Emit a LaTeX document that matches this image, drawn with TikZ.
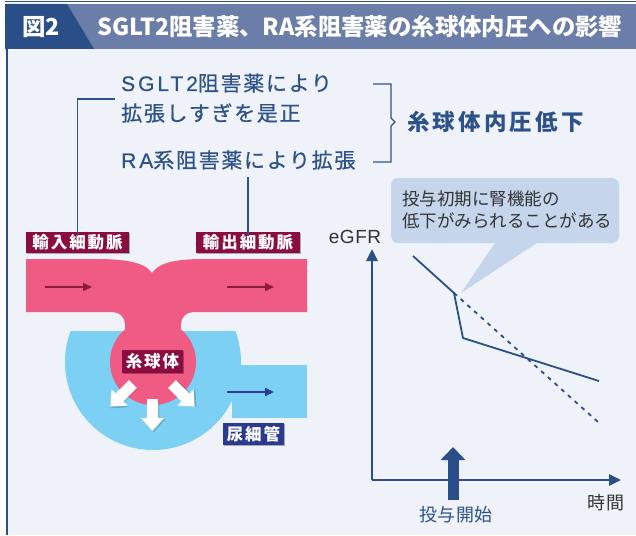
\documentclass[tikz,border=0pt]{standalone}
\usepackage{fontspec}
\setmainfont{Noto Sans CJK JP}
\newfontfamily\latinsans{Liberation Sans}
\usetikzlibrary{arrows.meta,shadows}

\definecolor{hdrdark}{HTML}{2A4F88}
\definecolor{hdrlight}{HTML}{6B7EA9}
\definecolor{panel}{HTML}{EFF3F9}
\definecolor{txtblue}{HTML}{2D528A}
\definecolor{pinkc}{HTML}{EF5B82}
\definecolor{bluec}{HTML}{7BD0F4}
\definecolor{maroon}{HTML}{8B0D40}
\definecolor{indigo}{HTML}{2B3A8F}
\definecolor{arrowred}{HTML}{8E1B3C}
\definecolor{arrowblue}{HTML}{2F3A94}
\definecolor{callout}{HTML}{C5D5EC}
\definecolor{graytxt}{HTML}{333333}
\definecolor{axisc}{HTML}{2B5088}

% letter-spaced text: \lsp{spacing}{text}; \lspl for Latin letters
\newcommand{\lsp}[2]{{\addfontfeature{LetterSpace=#1}#2}}
\newcommand{\lspl}[2]{{\latinsans\addfontfeature{LetterSpace=#1,FakeBold=0.6}#2}}

\begin{document}
\begin{tikzpicture}[x=1pt,y=-1pt,
  hdr/.style={text=white, font=\bfseries\fontsize{23.4}{26}\selectfont, anchor=west, inner sep=0},
  bluetxt/.style={text=txtblue, font=\fontsize{21}{24}\selectfont\addfontfeature{FakeBold=0.6}, anchor=west, inner sep=0},
  tag/.style={fill=#1, text=white, font=\bfseries\fontsize{16.5}{18}\selectfont, inner sep=0,
    drop shadow={shadow xshift=1.2pt, shadow yshift=-1.2pt, opacity=0.3, fill=black}},
  link/.style={draw=txtblue, line width=1.3},
  axisline/.style={draw=axisc, line width=2.8, -{Triangle[length=12pt,width=11pt]}},
  flow/.style={line width=1.6, -{Triangle[length=9pt,width=8pt]}},
  plotline/.style={draw=axisc, line width=1.8},
  whitearrow/.style={fill=white},
  label/.style={inner sep=0, font=\fontsize{18}{20}\selectfont}
]
\useasboundingbox (0,0) rectangle (636,535);
\fill[white] (0,0) rectangle (636,535);

% title bar
\fill[hdrlight] (5,4) rectangle (636,49);
\fill[hdrdark] (5,4) -- (67,4) -- (94,49) -- (5,49) -- cycle;
\draw[hdrdark, line width=1] (5,1.5) -- (636,1.5);
\node[hdr] (fignum) at (22,27) {図2};
\node[hdr] (title) at (97,27) {SGLT2阻害薬、RA系阻害薬の糸球体内圧への影響};

% panel
\fill[panel] (8,49) rectangle (636,535);
\draw[hdrdark, line width=2.5] (7,49) -- (7,535);

% explanatory text
\node[bluetxt] (t1) at (121,83) {\lspl{14}{SGLT2}\lsp{8}{阻害薬により}};
\node[bluetxt] (t2) at (121,113) {\lsp{8}{拡張しすぎを是正}};
\node[bluetxt] (t3) at (121,160) {\lspl{14}{RA}\lsp{8}{系阻害薬により拡張}};
\node[text=txtblue, font=\bfseries\fontsize{22.5}{26}\selectfont, anchor=west, inner sep=0] (res) at (407,122) {\lsp{14}{糸球体内圧低下}};

% right brace
\draw[link] (373,84) -- (391,84) -- (391,118) -- (395,122) -- (391,126) -- (391,162) -- (373,162);

% vessel shapes: Bowman capsule and tubule
\begin{scope}
  \clip (0,331) rectangle (636,535);
  \fill[bluec] (153,362) circle[radius=88];
\end{scope}
\fill[bluec] (232,365) rectangle (307,418);

% arterioles and glomerulus
\fill[pinkc] (26,259) -- (96,259) .. controls (124,259) and (145,262) .. (152,273)
  .. controls (159,262) and (178,259) .. (204,259) -- (307,259) -- (307,312) -- (26,312) -- cycle;
\fill[pinkc] (125,300) rectangle (181,362);
\fill[pinkc] (113,312) arc[start angle=270,end angle=360,radius=12] -- (125,312) -- cycle;
\fill[pinkc] (181,312) -- (181,324) arc[start angle=180,end angle=270,radius=12] -- cycle;
\fill[pinkc] (153,362) circle[radius=43];

% flow arrows
\draw[flow, arrowred] (45,287) -- (92,287);
\draw[flow, arrowred] (227,287) -- (274,287);
\draw[flow, arrowblue] (227,392) -- (274,392);

% filtration arrows
\foreach \px/\py/\rot in {152.5/399/0, 133/384/-45, 172/384/45}{
  \begin{scope}[shift={(\px,\py)}, rotate=\rot]
    \fill[black, opacity=0.18, shift={(1.2,1.2)}] (-5.5,0) -- (5.5,0) -- (5.5,19) -- (11.5,19) -- (0,32) -- (-11.5,19) -- (-5.5,19) -- cycle;
    \fill[whitearrow] (-5.5,0) -- (5.5,0) -- (5.5,19) -- (11.5,19) -- (0,32) -- (-11.5,19) -- (-5.5,19) -- cycle;
  \end{scope}
}

% labels
\node[tag=maroon, minimum width=103, minimum height=21] (ain) at (77.5,242.5) {\lsp{12}{輸入細動脈}};
\node[tag=maroon, minimum width=104, minimum height=21] (aout) at (248,242.5) {\lsp{12}{輸出細動脈}};
\node[tag=maroon, minimum width=61, minimum height=23] (glom) at (152.5,361.5) {\lsp{12}{糸球体}};
\node[tag=indigo, minimum width=61, minimum height=22] (tub) at (253.5,434) {\lsp{12}{尿細管}};

% leader lines from text to labels
\coordinate (k1) at (115,99);
\draw[link] (k1) -- (ain.north |- k1) -- ([yshift=-4]ain.north);
\coordinate (k2) at (aout.north |- 0,177);
\draw[link] (k2) -- ([yshift=-4]aout.north);

% graph
\coordinate (origin) at (372,480);
\coordinate (ytip) at (372,249);
\coordinate (xtip) at (621,480);
\draw[axisline] (origin) -- (ytip);
\draw[axisline] (origin) -- (xtip);
\node[label, text=graytxt, font=\latinsans\fontsize{19}{21}\selectfont] (egfr) at (355,237) {\lsp{3}{eGFR}};
\node[label, text=graytxt] (time) at (606,503) {\lsp{3}{時間}};

\draw[plotline] (413,256) -- (454,293) -- (463,338) -- (599,381);
\draw[plotline, dash pattern=on 4pt off 5pt] (454,293) -- (598,422);

% start of treatment
\draw[draw=hdrdark, line width=11, -{Triangle[length=13pt,width=24pt]}] (453,500) -- (453,447);
\node[label, text=txtblue] (start) at (456,515) {\lsp{3}{投与開始}};

% callout
\fill[callout] (495,243) -- (537,243) -- (461,293) -- cycle;
\node[fill=callout, rounded corners=7, minimum width=228, minimum height=65, inner sep=0] (note) at (505,210.5) {};
\node[anchor=west, inner sep=0, align=left, text=graytxt, font=\fontsize{17.5}{22}\selectfont] (notetxt) at (402,210) {投与初期に腎機能の\\低下がみられることがある};
\end{tikzpicture}
\end{document}
